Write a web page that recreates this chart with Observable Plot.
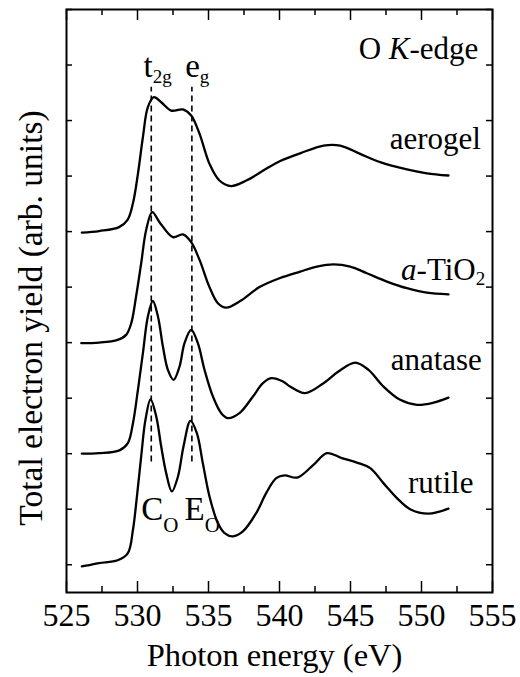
<!DOCTYPE html>
<html><head><meta charset="utf-8">
<script src="https://cdn.jsdelivr.net/npm/d3@7"></script>
<script src="https://cdn.jsdelivr.net/npm/@observablehq/plot@0.6"></script>
<style>body{margin:0;background:#fff} #chart svg{display:block} #chart svg, #chart svg text{font-family:"Liberation Serif","DejaVu Serif",serif !important;}</style>
</head><body><div id="chart"></div>
<script>
// ---- data (photon energy in eV, offset total electron yield in arb. units) ----
const aerogelE = [526.08,527.3,528.7,529.3,529.68,530.03,530.38,530.73,531.15,531.67,532.37,533.2,533.78,534.37,535.07,535.77,536.6,537.66,539.06,540.05,541.46,543.1,544.27,545.68,547.09,548.97,550.38,551.9];
const aerogelY = [5.98,6.01,6.08,6.21,6.51,7.04,7.70,8.24,8.42,8.33,8.18,8.20,8.09,7.76,7.22,6.92,6.82,6.92,7.13,7.27,7.41,7.55,7.55,7.40,7.25,7.12,7.05,7.01];

const aTiO2E = [526.04,527.3,528.6,529.2,529.56,529.9,530.26,530.61,531.04,531.55,532.49,533.2,533.78,534.37,535.07,535.66,536.25,537.18,538.59,540.0,541.46,542.64,543.8,544.98,546.15,547.56,548.97,550.38,551.9];
const aTiO2Y = [3.99,4.0,4.05,4.14,4.35,4.83,5.43,6.03,6.35,6.17,5.90,5.95,5.81,5.49,5.0,4.71,4.63,4.74,5.0,5.16,5.28,5.37,5.41,5.37,5.25,5.10,4.98,4.90,4.87];

const anataseE = [526.08,527.3,528.73,529.32,529.68,530.03,530.38,530.73,531.08,531.44,531.79,532.14,532.54,532.96,533.31,533.78,534.25,534.72,535.31,535.9,536.37,537.18,538.13,538.83,539.42,540.24,540.75,541.8,543.1,544.15,545.33,546.27,547.32,548.5,549.68,550.85,551.9];
const anataseY = [2.0,2.01,2.06,2.19,2.55,3.15,3.81,4.47,4.75,4.47,3.93,3.51,3.33,3.57,3.99,4.23,3.99,3.51,3.03,2.73,2.64,2.73,3.03,3.27,3.36,3.30,3.21,3.09,3.27,3.48,3.64,3.51,3.21,2.97,2.88,2.92,3.01];

const rutileE = [526.08,526.5,527.3,528.6,529.32,529.68,529.96,530.26,530.56,530.92,531.32,531.67,532.02,532.42,532.85,533.24,533.73,534.18,534.6,535.07,535.66,536.13,536.72,537.42,538.36,539.06,539.77,540.35,541.25,542.39,543.34,544.39,545.45,546.39,547.32,548.27,549.2,550.49,551.9];
const rutileY = [-0.03,-0.01,0.03,0.08,0.21,0.63,1.23,1.95,2.61,2.98,2.67,2.13,1.65,1.32,1.59,2.13,2.59,2.37,1.83,1.23,0.75,0.57,0.51,0.60,0.93,1.29,1.56,1.61,1.57,1.80,2.01,1.92,1.84,1.74,1.47,1.20,1.0,0.92,1.01];

const seriesNames = ["aerogel", "a-TiO2", "anatase", "rutile"];
const seriesE = [aerogelE, aTiO2E, anataseE, rutileE];
const seriesY = [aerogelY, aTiO2Y, anataseY, rutileY];

const xTickValues = [525, 530, 535, 540, 545, 550, 555];
const xMinorTicks = [527.5, 532.5, 537.5, 542.5, 547.5, 552.5];
const yTickValues = [0, 1, 2, 3, 4, 5, 6, 7, 8, 9, 10];

const peakLineE = [530.97, 533.83];
const peakLineFrom = 1.85;
const peakLineTo = 8.6;

const labelTexts = ["O K-edge", "aerogel", "a-TiO2", "anatase", "rutile"];
const labelE = [554.0, 554.18, 554.49, 554.25, 553.66];
const labelY = [9.1, 7.49, 5.13, 3.51, 1.29];

const peakTexts = ["t2g", "eg", "CO", "EO"];
const peakTextE = [530.42, 533.36, 530.26, 533.31];
const peakTextY = [8.78, 8.78, 0.81, 0.81];

const xTitle = "Photon energy (eV)";
const yTitle = "Total electron yield (arb. units)";

// ---- build tables ----
const rows = [];
seriesNames.forEach((s, i) => seriesE[i].forEach((e, j) => rows.push({s, e, v: seriesY[i][j]})));
const labels = labelTexts.map((t, i) => ({t, x: labelE[i], y: labelY[i]}));
const peaks = peakTexts.map((t, i) => ({t, x: peakTextE[i], y: peakTextY[i]}));

const W = 520, H = 677, mL = 66, mR = 28, mT = 9, mB = 85;
const fw = W - mL - mR, fh = H - mT - mB;
const FONT = '"Liberation Serif", "DejaVu Serif", serif';

const chart = Plot.plot({
  width: W, height: H,
  marginLeft: mL, marginRight: mR, marginTop: mT, marginBottom: mB,
  x: {domain: [525, 555]},
  y: {domain: [-0.5, 10], axis: null},
  style: {fontFamily: FONT, background: "white", color: "black"},
  marks: [
    Plot.line(rows, {x: "e", y: "v", z: "s", curve: "catmull-rom", stroke: "black", strokeWidth: 2.3}),
    Plot.ruleX(peakLineE, {x: d => d, y1: peakLineFrom, y2: peakLineTo, stroke: "black", strokeWidth: 1.6, strokeDasharray: "6,4"}),
    Plot.frame({stroke: "black", strokeWidth: 2}),
    Plot.axisX({ticks: xTickValues, tickSize: 0, tickPadding: 10.5, fontSize: 32, label: null, tickFormat: d => String(d)}),
    Plot.ruleX(xTickValues, {x: d => d, insetTop: fh - 11, stroke: "black", strokeWidth: 1.5}),
    Plot.ruleX(xTickValues, {x: d => d, insetBottom: fh - 11, stroke: "black", strokeWidth: 1.5}),
    Plot.ruleX(xMinorTicks, {x: d => d, insetTop: fh - 6, stroke: "black", strokeWidth: 1.5}),
    Plot.ruleX(xMinorTicks, {x: d => d, insetBottom: fh - 6, stroke: "black", strokeWidth: 1.5}),
    Plot.ruleY(yTickValues, {y: d => d, insetRight: fw - 6, stroke: "black", strokeWidth: 1.5}),
    Plot.ruleY(yTickValues, {y: d => d, insetLeft: fw - 6, stroke: "black", strokeWidth: 1.5}),
    Plot.text(labels, {x: "x", y: "y", text: "t", textAnchor: "end", lineAnchor: "bottom", fontSize: 31, fill: "black"}),
    Plot.text(peaks, {x: "x", y: "y", text: "t", textAnchor: "start", lineAnchor: "bottom", fontSize: 33, fill: "black"}),
    Plot.text([xTitle], {text: d => d, frameAnchor: "bottom", textAnchor: "middle", dx: -5, dy: 73, lineAnchor: "bottom", fontSize: 32.5, fill: "black"}),
    Plot.text([yTitle], {text: d => d, frameAnchor: "left", textAnchor: "middle", rotate: -90, dx: -25, dy: 17, lineAnchor: "bottom", fontSize: 33.5, fill: "black"})
  ]
});
chart.style.fontFamily = FONT;
chart.setAttribute("font-family", FONT);

// rich text: italics and subscripts
const rich = {
  "O K-edge": [{t: "O "}, {t: "K", italic: true}, {t: "-edge"}],
  "a-TiO2": [{t: "a", italic: true}, {t: "-TiO"}, {t: "2", size: 19, shift: 5}],
  "t2g": [{t: "t"}, {t: "2g", size: 19, shift: 6}],
  "eg": [{t: "e"}, {t: "g", size: 19, shift: 6}],
  "CO": [{t: "C"}, {t: "O", size: 21, shift: 12}],
  "EO": [{t: "E"}, {t: "O", size: 21, shift: 12}]
};
chart.querySelectorAll("text").forEach(el => {
  el.style.fontFamily = FONT;
  const spec = rich[el.textContent];
  if (!spec) return;
  el.textContent = "";
  for (const seg of spec) {
    const ts = document.createElementNS("http://www.w3.org/2000/svg", "tspan");
    ts.textContent = seg.t;
    if (seg.italic) ts.setAttribute("font-style", "italic");
    if (seg.size) { ts.setAttribute("font-size", seg.size); ts.setAttribute("dy", seg.shift); }
    el.appendChild(ts);
  }
});

document.getElementById("chart").appendChild(chart);
</script>
</body></html>
